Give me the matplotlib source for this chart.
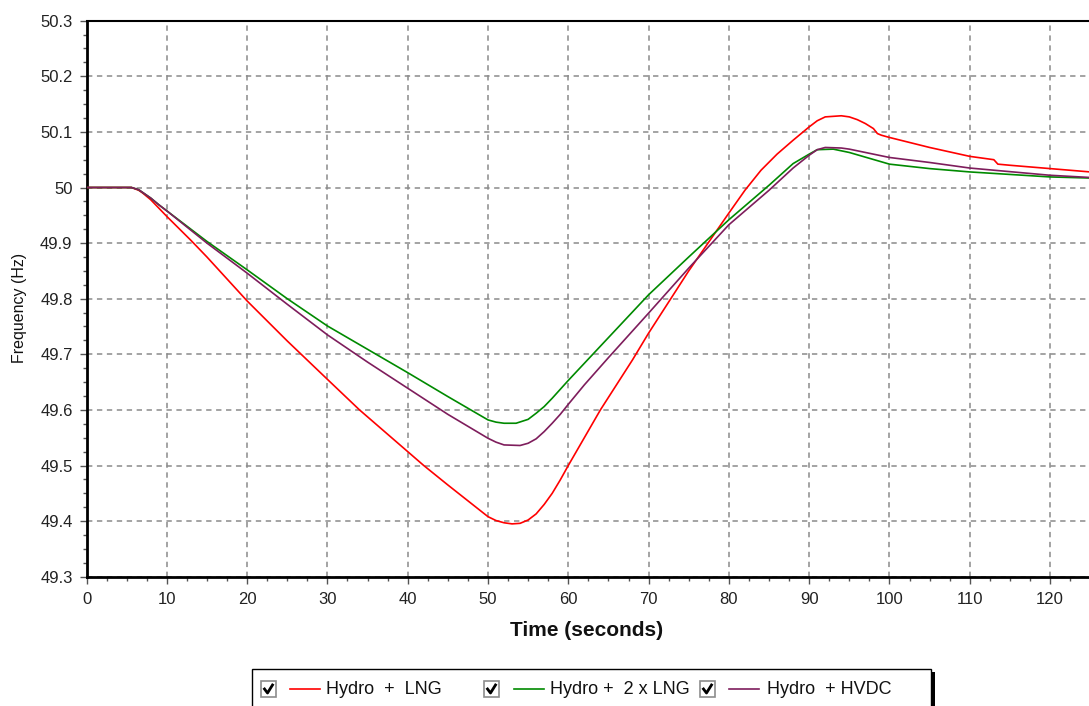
import matplotlib
matplotlib.use("Agg")
import matplotlib.pyplot as plt
from matplotlib.ticker import MultipleLocator, FuncFormatter
from matplotlib.patches import Rectangle
from matplotlib.lines import Line2D

plt.rcParams['font.family'] = ['Liberation Sans', 'DejaVu Sans']

W, H = 1089, 706

# Hydro + LNG (red)
t_lng = [0, 5.6, 6.5, 7, 8, 9, 10, 13, 15, 20, 25, 30, 34, 40, 42, 45, 50, 51, 52, 53, 54,
         55, 56, 57, 58, 59, 60, 62, 64, 66, 68, 70, 75, 80, 82, 84, 86, 88, 90, 91, 92, 94,
         95, 96, 97, 98, 98.5, 99, 100, 105, 110, 113, 113.5, 115, 120, 125]
f_lng = [50.0, 50.0, 49.995, 49.99, 49.978, 49.963, 49.948, 49.905, 49.875, 49.796, 49.724,
         49.655, 49.6, 49.525, 49.5, 49.465, 49.408, 49.401, 49.397, 49.395, 49.396,
         49.402, 49.413, 49.43, 49.45, 49.474, 49.5, 49.55, 49.6, 49.645, 49.69, 49.738, 49.85,
         49.954, 49.995, 50.031, 50.06, 50.085, 50.109, 50.12, 50.127, 50.129,
         50.127, 50.122, 50.115, 50.106, 50.097, 50.094, 50.09, 50.072, 50.056, 50.05, 50.042,
         50.04, 50.034, 50.028]

# Hydro + 2 x LNG (green)
t_2lng = [0, 5.6, 6.5, 7, 8, 9, 10, 15, 20, 25, 30, 35, 40, 45, 50, 51, 52, 53.5, 55, 56, 57,
          58, 59, 60, 65, 70, 75, 80, 85, 88, 90, 91, 93, 95, 100, 105, 110, 120, 125]
f_2lng = [50.0, 50.0, 49.996, 49.991, 49.981, 49.969, 49.958, 49.903, 49.852, 49.8, 49.751,
          49.709, 49.667, 49.624, 49.582, 49.578, 49.576, 49.576, 49.583, 49.594, 49.606,
          49.621, 49.637, 49.653, 49.73, 49.807, 49.875, 49.942, 50.004, 50.043, 50.06, 50.068,
          50.069, 50.063, 50.042, 50.034, 50.028, 50.019, 50.017]

# Hydro + HVDC (purple)
t_hvdc = [0, 5.6, 6.5, 7, 8, 9, 10, 15, 20, 25, 30, 35, 40, 45, 50, 51, 52, 54, 55, 56, 57, 58,
          59, 60, 62, 65, 70, 75, 80, 85, 88, 90, 91, 92, 94, 95, 100, 105, 110, 120, 125]
f_hvdc = [50.0, 50.0, 49.996, 49.991, 49.981, 49.969, 49.958, 49.9, 49.846, 49.79, 49.735,
          49.686, 49.639, 49.592, 49.549, 49.542, 49.537, 49.536, 49.54, 49.548, 49.561, 49.576,
          49.592, 49.61, 49.645, 49.694, 49.774, 49.855, 49.933, 49.995, 50.035, 50.058, 50.068,
          50.072, 50.071, 50.069, 50.054, 50.045, 50.035, 50.022, 50.018]

labels = ['Hydro  +  LNG', 'Hydro +  2 x LNG', 'Hydro  + HVDC']
colors = ['#ff0000', '#008a00', '#7e1d5c']

fig = plt.figure(figsize=(W / 100, H / 100), dpi=100)

def fx(x):
    return x / W

def fy(y):
    return 1 - y / H

left, top, bottom = 86.5, 20.7, 576.7
ax = fig.add_axes([fx(left), fy(bottom), 1 - fx(left), (bottom - top) / H])

for t, f, c in zip([t_lng, t_2lng, t_hvdc], [f_lng, f_2lng, f_hvdc], colors):
    ax.plot(t, f, color=c, lw=1.2, zorder=3)

ax.set_xlim(0, 124.85)
ax.set_ylim(49.3, 50.3)
ax.xaxis.set_major_locator(MultipleLocator(10))
ax.xaxis.set_minor_locator(MultipleLocator(2.5))
ax.yaxis.set_major_locator(MultipleLocator(0.1))
ax.yaxis.set_minor_locator(MultipleLocator(0.025))
ax.yaxis.set_major_formatter(FuncFormatter(lambda v, p: '%g' % round(v, 2)))

ax.grid(True, which='major', color='#8a8a8a', lw=1.1, ls=(0, (3.5, 3)))
ax.tick_params(which='major', direction='out', length=5, width=1, color='#555555',
               labelsize=12, labelcolor='#222222')
ax.tick_params(axis='y', which='major', pad=5)
ax.tick_params(axis='x', which='major', pad=6)
ax.tick_params(which='minor', direction='out', length=3, width=1, color='#555555')

for s in ['left', 'bottom']:
    ax.spines[s].set_linewidth(2)
    ax.spines[s].set_color('black')
ax.spines['top'].set_linewidth(1.5)
ax.spines['right'].set_visible(False)

fig.text(fx(587), fy(630), 'Time (seconds)', ha='center', va='center',
         fontsize=15, fontweight='bold', color='#111111')
fig.text(fx(20), fy(308), 'Frequency (Hz)', ha='center', va='center',
         rotation=90, fontsize=11.5, color='#111111')

# legend box with check boxes
box_l, box_r, box_t, box_b = 252, 931, 669, 707
fig.add_artist(Rectangle((fx(box_l), fy(box_b)), fx(box_r - box_l), (box_b - box_t) / H,
                         transform=fig.transFigure, facecolor='white', edgecolor='black', lw=1))
fig.add_artist(Rectangle((fx(box_r), fy(box_b)), fx(3.5), (box_b - box_t - 3) / H,
                         transform=fig.transFigure, facecolor='black', edgecolor='none'))

row_y = 689
cb_x = [261, 484, 700]
line_x = [290, 514, 729]
text_x = [326, 550, 767]
for cx, lx, tx, c, lab in zip(cb_x, line_x, text_x, colors, labels):
    fig.add_artist(Rectangle((fx(cx), fy(row_y + 8)), fx(15), 16 / H, transform=fig.transFigure,
                             facecolor='white', edgecolor='#8c8c8c', lw=1.2))
    fig.add_artist(Line2D([fx(cx + 3.5), fx(cx + 6.5), fx(cx + 11.5)],
                          [fy(row_y), fy(row_y + 4), fy(row_y - 4)],
                          transform=fig.transFigure, color='black', lw=2))
    fig.add_artist(Line2D([fx(lx), fx(lx + 30)], [fy(row_y), fy(row_y)],
                          transform=fig.transFigure, color=c, lw=1.2))
    fig.text(fx(tx), fy(row_y), lab, ha='left', va='center', fontsize=13, color='#111111')

fig.savefig('out.png', dpi=100)
